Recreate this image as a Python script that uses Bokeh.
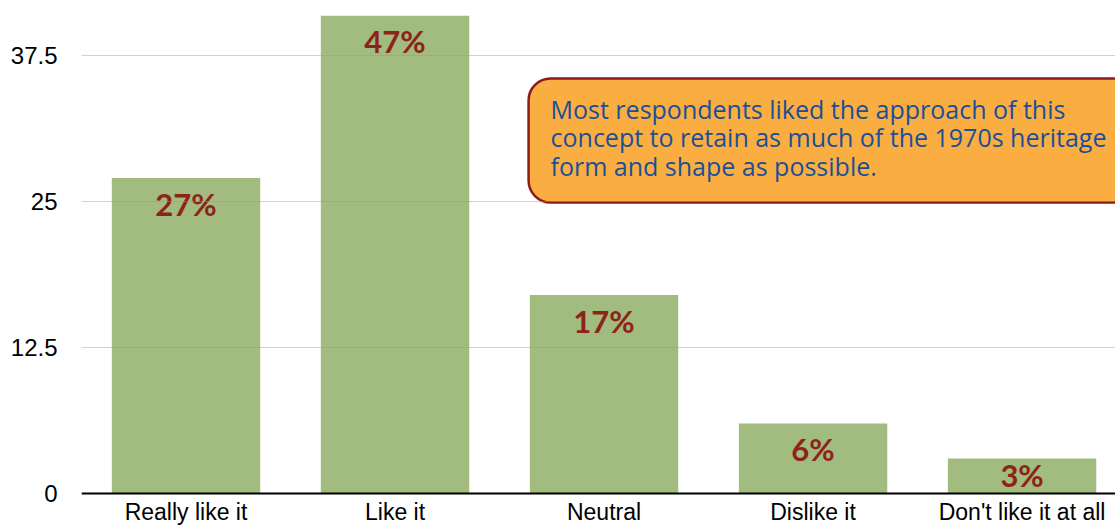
from bokeh.plotting import figure
from bokeh.models import ColumnDataSource, FixedTicker, BoxAnnotation, Label, Range1d, Span
from bokeh.core.properties import value
from bokeh.embed import file_html
from bokeh.resources import INLINE

categories = ["Really like it", "Like it", "Neutral", "Dislike it", "Don't like it at all"]
values = [27, 47, 17, 6, 3]
pct_labels = ["27%", "47%", "17%", "6%", "3%"]
y_ticks = [0, 12.5, 25, 37.5]
y_tick_labels = ["0", "12.5", "25", "37.5"]
note = "Most respondents liked the approach of this\nconcept to retain as much of the 1970s heritage\nform and shape as possible."

Y_MAX = 40.92
Y_MIN = -2.91
xs = list(range(len(categories)))
label_y = [max(min(v, Y_MAX) - 2.2, 1.55) for v in values]
zeros = [0] * len(categories)

src = ColumnDataSource(dict(x=xs, top=values, ly=label_y, lab=pct_labels, cat=categories, z=zeros))

p = figure(width=1115, height=527, output_backend="svg", toolbar_location=None,
           x_range=Range1d(-0.5, 4.447), y_range=Range1d(Y_MIN, Y_MAX),
           min_border_left=81, min_border_top=15, min_border_right=0, min_border_bottom=0)
p.outline_line_color = None
p.background_fill_color = "white"

p.vbar(x="x", top="top", width=0.71, bottom=0, source=src,
       fill_color="#A2BB7E", line_color=None)

p.text(x="x", y="ly", text="lab", source=src, text_align="center", text_baseline="middle",
       text_color="#8E2419", text_font=value("Lato"), text_font_style="bold",
       text_font_size="31px")

# category labels under the baseline
p.text(x="x", y="z", text="cat", source=src, text_align="center", text_baseline="top",
       y_offset=5, text_color="black", text_font=value("Liberation Sans"),
       text_font_size="23px")

# baseline
p.add_layout(Span(location=0, dimension="width", line_color="black", line_width=2))

# callout
box = BoxAnnotation(left=1.639, right=4.7, top=35.53, bottom=24.91,
                    fill_color="#FAAE42", fill_alpha=1.0,
                    line_color="#8B1C1C", line_alpha=1.0, line_width=2.5, border_radius=22)
p.add_layout(box)
lab = Label(x=1.744, y=34.41, text=note, text_baseline="top", text_align="left",
            text_color="#1B4F98", text_font="Open Sans", text_font_size="25px",
            text_line_height=0.85)
p.add_layout(lab)

# axes
p.xaxis.visible = False

p.yaxis.ticker = FixedTicker(ticks=y_ticks)
p.yaxis.major_label_overrides = {t: l for t, l in zip(y_ticks, y_tick_labels)}
p.yaxis.axis_line_color = None
p.yaxis.major_tick_line_color = None
p.yaxis.minor_tick_line_color = None
p.yaxis.major_label_standoff = 18
p.yaxis.major_label_text_font = "Liberation Sans"
p.yaxis.major_label_text_font_size = "24px"
p.yaxis.major_label_text_color = "black"

p.xgrid.grid_line_color = None
p.ygrid.ticker = FixedTicker(ticks=y_ticks[1:])
p.ygrid.grid_line_color = "#999999"
p.ygrid.grid_line_alpha = 0.45
p.ygrid.level = "overlay"

open("out.html", "w").write(file_html(p, INLINE))
